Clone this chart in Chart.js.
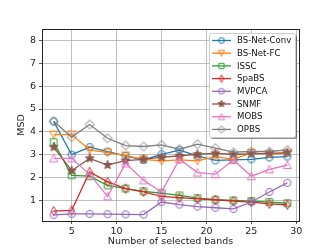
<!DOCTYPE html>
<html>
<head>
<meta charset="utf-8">
<script src="https://cdn.jsdelivr.net/npm/chart.js@4.4.1/dist/chart.umd.min.js"></script>
<style>
    html, body { margin: 0; padding: 0; background: #fff; }
    canvas { display: block; }
</style>
</head>
<body>
<canvas id="chart" width="332" height="249"></canvas>
<script>
// Data
const bands = [3, 5, 7, 9, 11, 13, 15, 17, 19, 21, 23, 25, 27, 29];
const bsNetConv = [4.46, 3.0, 3.33, 3.14, 2.95, 2.77, 3.02, 3.2, 2.95, 2.75, 2.77, 2.8, 2.88, 2.92];
const bsNetFc = [3.88, 3.88, 3.21, 3.09, 2.96, 2.8, 2.73, 2.77, 2.73, 2.92, 2.8, 3.08, 3.02, 3.06];
const issc = [3.55, 2.1, 2.06, 1.66, 1.52, 1.4, 1.32, 1.22, 1.1, 1.03, 1.0, 0.97, 0.93, 0.88];
const spabs = [0.53, 0.56, 2.25, 1.81, 1.52, 1.37, 1.18, 1.12, 1.07, 1.03, 0.97, 0.93, 0.85, 0.81];
const mvpca = [0.37, 0.41, 0.41, 0.4, 0.39, 0.38, 0.93, 0.82, 0.73, 0.68, 0.63, 0.93, 1.37, 1.77];
const snmf = [3.33, 2.3, 2.84, 2.55, 2.74, 2.8, 2.89, 2.95, 3.02, 3.06, 3.02, 3.04, 3.06, 3.09];
const mobs = [2.84, 2.84, 2.14, 1.18, 2.62, 1.88, 1.37, 2.8, 2.22, 2.15, 2.77, 2.06, 2.36, 2.55];
const opbs = [4.46, 3.77, 4.32, 3.72, 3.4, 3.36, 3.43, 3.24, 3.46, 3.29, 3.11, 3.14, 3.14, 3.21];

const xTicks = [5, 10, 15, 20, 25, 30];
const yTicks = [1, 2, 3, 4, 5, 6, 7, 8];

const names = ["BS-Net-Conv", "BS-Net-FC", "ISSC", "SpaBS", "MVPCA", "SNMF", "MOBS", "OPBS"];
const colors = ["#1f77b4", "#ff7f0e", "#2ca02c", "#d62728", "#9467bd", "#8c564b", "#e377c2", "#7f7f7f"];
const shapes = ["o", "v", "s", "d", "o", "*", "^", "D"];
const series = [bsNetConv, bsNetFc, issc, spabs, mvpca, snmf, mobs, opbs];

const FONT = "'DejaVu Sans', sans-serif";

// matplotlib-like markers drawn on small canvases, k = scale
function makeMarker(shape, color, k) {
    const s = 14;
    const c = document.createElement("canvas");
    c.width = s;
    c.height = s;
    const g = c.getContext("2d");
    const m = s / 2;
    g.strokeStyle = color;
    g.fillStyle = color;
    g.lineWidth = 1;
    g.beginPath();
    if (shape === "o") {
        g.arc(m, m, 3.6 * k, 0, Math.PI * 2);
    } else if (shape === "s") {
        g.rect(m - 3.3 * k, m - 3.3 * k, 6.6 * k, 6.6 * k);
    } else if (shape === "v") {
        g.moveTo(m, m + 4 * k);
        g.lineTo(m - 4 * k, m - 3.6 * k);
        g.lineTo(m + 4 * k, m - 3.6 * k);
        g.closePath();
    } else if (shape === "^") {
        g.moveTo(m, m - 4 * k);
        g.lineTo(m - 4 * k, m + 3.6 * k);
        g.lineTo(m + 4 * k, m + 3.6 * k);
        g.closePath();
    } else if (shape === "d") {
        g.moveTo(m, m - 4.6 * k);
        g.lineTo(m + 2.7 * k, m);
        g.lineTo(m, m + 4.6 * k);
        g.lineTo(m - 2.7 * k, m);
        g.closePath();
    } else if (shape === "D") {
        g.moveTo(m, m - 4.5 * k);
        g.lineTo(m + 4.5 * k, m);
        g.lineTo(m, m + 4.5 * k);
        g.lineTo(m - 4.5 * k, m);
        g.closePath();
    } else if (shape === "*") {
        for (let i = 0; i < 10; i++) {
            const r = (i % 2 === 0 ? 4.6 : 1.9) * k;
            const a = -Math.PI / 2 + i * Math.PI / 5;
            const px = m + r * Math.cos(a), py = m + r * Math.sin(a);
            if (i === 0) g.moveTo(px, py); else g.lineTo(px, py);
        }
        g.closePath();
        g.fill();
    }
    g.stroke();
    return c;
}

const markers = shapes.map((sh, i) => makeMarker(sh, colors[i], 1));
const legendMarkers = shapes.map((sh, i) => makeMarker(sh, colors[i], 0.8));

const datasets = names.map((name, i) => ({
    label: name,
    data: bands.map((b, j) => ({ x: b, y: series[i][j] })),
    borderColor: colors[i],
    backgroundColor: colors[i],
    borderWidth: 1.3,
    pointStyle: markers[i],
    pointRadius: 4,
    tension: 0,
    order: names.length - i
}));

// frame + legend drawn like matplotlib
const framePlugin = {
    id: "frame",
    afterDraw(chart) {
        const { ctx, chartArea: a } = chart;
        ctx.save();
        ctx.strokeStyle = "#222";
        ctx.lineWidth = 1;
        ctx.strokeRect(Math.round(a.left) + 0.5, Math.round(a.top) + 0.5,
            Math.round(a.right - a.left), Math.round(a.bottom - a.top));

        // legend box
        const bx = 209, by = 33, bw = 86, bh = 104;
        ctx.fillStyle = "rgba(0,0,0,0.45)";
        ctx.beginPath();
        ctx.roundRect(bx + 2, by + 2, bw, bh, 2);
        ctx.fill();
        ctx.fillStyle = "#fff";
        ctx.strokeStyle = "#cccccc";
        ctx.lineWidth = 1;
        ctx.beginPath();
        ctx.roundRect(bx + 0.5, by + 0.5, bw, bh, 2);
        ctx.fill();
        ctx.stroke();

        ctx.font = "8.6px " + FONT;
        ctx.textBaseline = "middle";
        ctx.textAlign = "left";
        names.forEach((name, i) => {
            const y = 40.5 + i * 12.7;
            ctx.strokeStyle = colors[i];
            ctx.lineWidth = 1.3;
            ctx.beginPath();
            ctx.moveTo(212, y);
            ctx.lineTo(231, y);
            ctx.stroke();
            ctx.drawImage(legendMarkers[i], 221.5 - 7, y - 7);
            ctx.fillStyle = "#111";
            ctx.fillText(name, 237, y + 0.5);
        });
        ctx.restore();
    }
};

new Chart(document.getElementById("chart"), {
    type: "line",
    data: { datasets },
    plugins: [framePlugin],
    options: {
        responsive: false,
        animation: false,
        layout: { padding: { left: 0, top: 29, right: 33, bottom: 3 } },
        plugins: {
            legend: { display: false },
            tooltip: { enabled: false }
        },
        scales: {
            x: {
                type: "linear",
                min: 1.7,
                max: 30.3,
                afterBuildTicks: s => { s.ticks = xTicks.map(v => ({ value: v })); },
                afterFit: s => { s.height = 25; },
                grid: { color: "#b0b0b0", lineWidth: 0.8, tickColor: "#222", tickLength: 3 },
                border: { display: false },
                ticks: { color: "#222", font: { family: FONT, size: 9.5 }, padding: 2, maxRotation: 0 },
                title: {
                    display: true,
                    text: "Number of selected bands",
                    color: "#222",
                    font: { family: FONT, size: 9.5, lineHeight: 1 },
                    padding: { top: 3, bottom: 0 }
                }
            },
            y: {
                min: 0.1,
                max: 8.5,
                afterBuildTicks: s => { s.ticks = yTicks.map(v => ({ value: v })); },
                afterFit: s => { s.width = 42; },
                grid: { color: "#b0b0b0", lineWidth: 0.8, tickColor: "#222", tickLength: 3 },
                border: { display: false },
                ticks: { color: "#222", font: { family: FONT, size: 9.5 }, padding: 3 },
                title: {
                    display: true,
                    text: "MSD",
                    color: "#222",
                    font: { family: FONT, size: 9.5, lineHeight: 1 },
                    padding: { top: 17, bottom: 0 }
                }
            }
        }
    }
});
</script>
</body>
</html>
